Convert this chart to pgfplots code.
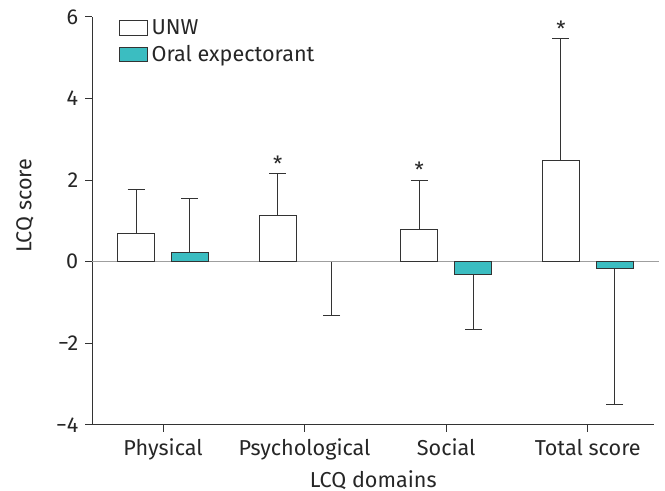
\documentclass[border=0pt]{standalone}
\usepackage{fontspec}
\setmainfont{Fira Sans}
\usepackage{pgfplots}
\pgfplotsset{compat=1.18}
\definecolor{tealbar}{RGB}{59,189,193}
\definecolor{edge}{RGB}{51,51,51}
\begin{document}
\begin{tikzpicture}
\useasboundingbox (-46.15pt,-33pt) rectangle (286.35pt,212.45pt);
\begin{axis}[
  at={(0,0)}, anchor=south west, scale only axis,
  width=281pt, height=204pt,
  xmin=-0.5, xmax=3.47, ymin=-4, ymax=6,
  axis lines*=left,
  xtick={0,1,2,3}, xticklabels={Physical,Psychological,Social,Total score},
  ytick={-4,-2,0,2,4,6}, yticklabels={−4,−2,0,2,4,6},
  tick align=outside, major tick length=3.5pt,
  tick style={edge, line width=0.5pt},
  axis line style={edge, line width=0.5pt},
  ticklabel style={font=\fontsize{10.8}{12}\selectfont, text=black!85},
  xlabel={LCQ domains}, ylabel={LCQ score},
  label style={font=\fontsize{10.8}{12}\selectfont, text=black!85},
  xlabel style={at={(axis description cs:0.5,-0.135)}, anchor=center},
  ylabel style={at={(axis description cs:-0.12,0.537)}, anchor=center},
  ybar, bar width=0.26,
  clip=false,
  legend style={at={(axis description cs:0.046,1.005)}, anchor=north west, draw=none, fill=none,
    font=\fontsize{10.8}{12}\selectfont, text=black!85, row sep=0pt, inner sep=0pt},
  legend cell align=left,
  legend image code/.code={\draw[#1, line width=0.5pt] (-3pt,-3.6pt) rectangle (11pt,3.6pt);},
  error bars/error bar style={edge, line width=0.5pt, draw=edge},
  error bars/error mark options={rotate=90, mark size=4.25pt, draw=edge, line width=0.5pt},
]
\draw[gray!75, line width=0.5pt] (axis cs:-0.5,0) -- (axis cs:3.5,0);
\addplot[fill=white, draw=edge, line width=0.5pt, bar shift=-0.19,
  error bars/.cd, y dir=plus, y explicit]
  coordinates {(0,0.69) +- (0,1.09) (1,1.13) +- (0,1.02) (2,0.78) +- (0,1.22) (3,2.47) +- (0,2.99)};
\addplot[fill=tealbar, draw=edge, line width=0.5pt, bar shift=0.19,
  error bars/.cd, y dir=plus, y explicit]
  coordinates {(0,0.22) +- (0,1.34)};
\addplot[fill=tealbar, draw=edge, line width=0.5pt, bar shift=0.19, forget plot,
  error bars/.cd, y dir=minus, y explicit]
  coordinates {(2,-0.31) +- (0,1.36) (3,-0.16) +- (0,3.35)};
\addplot[fill=none, draw=none, bar shift=0.19, forget plot,
  error bars/.cd, y dir=minus, y explicit]
  coordinates {(1,0) +- (0,1.33)};
\legend{UNW, Oral expectorant}
\node[font=\fontsize{10.5}{10.5}\selectfont, text=black!85] at (axis cs:0.81,2.40) {*};
\node[font=\fontsize{10.5}{10.5}\selectfont, text=black!85] at (axis cs:1.81,2.26) {*};
\node[font=\fontsize{10.5}{10.5}\selectfont, text=black!85] at (axis cs:2.81,5.72) {*};
\end{axis}
\end{tikzpicture}
\end{document}
